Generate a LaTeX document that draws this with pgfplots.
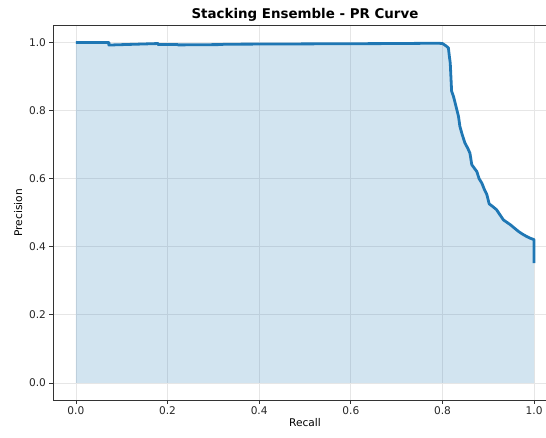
\documentclass[border=0pt]{standalone}
\usepackage{pgfplots}
\pgfplotsset{compat=1.18}
\usepackage{fontspec}
\setmainfont{DejaVu Sans}
\definecolor{mblue}{HTML}{1F77B4}
\definecolor{gridc}{HTML}{E6E6E6}
\begin{document}
\begin{tikzpicture}
\begin{axis}[
  name=ax,
  at={(0,0)}, anchor=south west,
  scale only axis,
  width=504pt, height=374.5pt,
  xmin=-0.05, xmax=1.05, ymin=-0.05, ymax=1.05,
  xtick={0,0.2,0.4,0.6,0.8,1.0},
  ytick={0,0.2,0.4,0.6,0.8,1.0},
  /pgf/number format/.cd, fixed, fixed zerofill, precision=1, assume math mode=true,
  /pgfplots/.cd,
  tick align=outside,
  xtick pos=bottom, ytick pos=left,
  major tick length=3.5pt,
  tick style={black!80, line width=0.8pt},
  axis line style={black!80, line width=0.8pt},
  grid=major,
  major grid style={gridc, line width=0.8pt},
  ticklabel style={font=\fontsize{10.6}{12}\selectfont, text=black!85},
  xlabel={Recall}, ylabel={Precision},
  label style={font=\fontsize{10.6}{12}\selectfont},
  xlabel style={yshift=3pt},
  ylabel style={yshift=0pt},
  title={\textbf{Stacking Ensemble - PR Curve}},
  title style={font=\fontsize{13.4}{15}\selectfont, yshift=-5pt},
]
\addplot[fill=mblue, fill opacity=0.2, draw=none] coordinates {
(0,1.0) (0.072,1.0) (0.072,0.9926) (0.179,0.997) (0.179,0.994) (0.223,0.994)
(0.223,0.993) (0.321,0.994) (0.321,0.995) (0.5,0.996) (0.70,0.997) (0.79,0.998)
(0.80,0.997) (0.808,0.99) (0.813,0.984) (0.815,0.96) (0.817,0.94) (0.820,0.857)
(0.824,0.842) (0.830,0.81) (0.835,0.783) (0.838,0.754) (0.843,0.73) (0.849,0.705)
(0.855,0.69) (0.860,0.675) (0.864,0.641) (0.875,0.621) (0.880,0.60) (0.886,0.587)
(0.891,0.57) (0.897,0.553) (0.902,0.526) (0.910,0.518) (0.918,0.509) (0.925,0.495)
(0.933,0.479) (0.948,0.465) (0.957,0.455) (0.966,0.445) (0.975,0.437) (0.984,0.430)
(0.992,0.425) (1.0,0.421) (1.0,0.352)
} \closedcycle;
\addplot[mblue, line width=2.8pt, line join=round] coordinates {
(0,1.0) (0.072,1.0) (0.072,0.9926) (0.179,0.997) (0.179,0.994) (0.223,0.994)
(0.223,0.993) (0.321,0.994) (0.321,0.995) (0.5,0.996) (0.70,0.997) (0.79,0.998)
(0.80,0.997) (0.808,0.99) (0.813,0.984) (0.815,0.96) (0.817,0.94) (0.820,0.857)
(0.824,0.842) (0.830,0.81) (0.835,0.783) (0.838,0.754) (0.843,0.73) (0.849,0.705)
(0.855,0.69) (0.860,0.675) (0.864,0.641) (0.875,0.621) (0.880,0.60) (0.886,0.587)
(0.891,0.57) (0.897,0.553) (0.902,0.526) (0.910,0.518) (0.918,0.509) (0.925,0.495)
(0.933,0.479) (0.948,0.465) (0.957,0.455) (0.966,0.445) (0.975,0.437) (0.984,0.430)
(0.992,0.425) (1.0,0.421) (1.0,0.352)
};
\end{axis}
\pgfresetboundingbox
\path[use as bounding box] (-53pt,-37pt) rectangle (493pt,400pt);
\end{tikzpicture}
\end{document}
